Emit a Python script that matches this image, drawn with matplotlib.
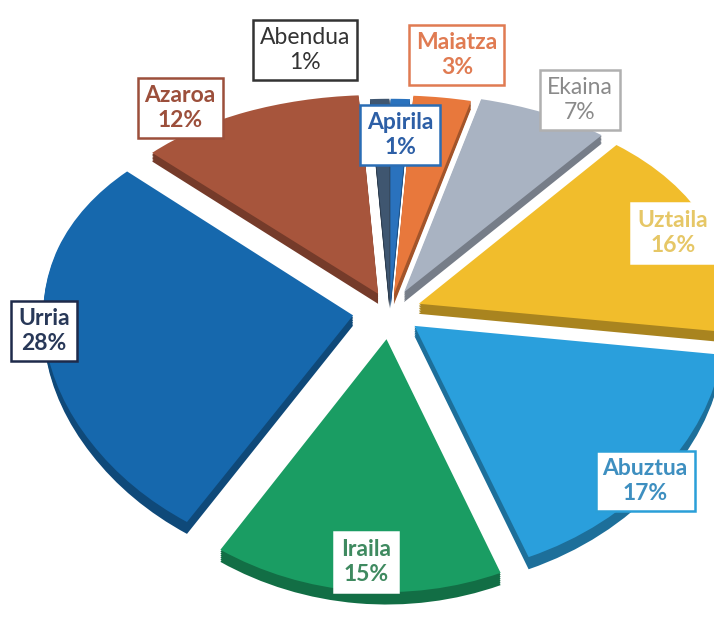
import matplotlib
matplotlib.use("Agg")
import matplotlib.pyplot as plt
import numpy as np
from matplotlib.colors import to_rgb

# ---- data ----
months = ["Apirila", "Maiatza", "Ekaina", "Uztaila", "Abuztua",
          "Iraila", "Urria", "Azaroa", "Abendua"]
shares = [1, 3, 7, 16, 17, 15, 28, 12, 1]

# ---- style ----
colors = ["#2a72bd", "#e8783c", "#a9b3c2", "#f1bd2c", "#2a9fdc",
          "#1a9d63", "#1668ad", "#a7553c", "#3f5670"]
explode = [0.06, 0.08, 0.1, 0.1, 0.1, 0.12, 0.12, 0.09, 0.06]
text_colors = ["#2d5fa6", "#e07b52", "#8a8a8a", "#e6c766", "#3e8fc0",
               "#3f8a60", "#283858", "#9c4f3b", "#333333"]
edge_colors = ["#2a6db5", "#e07b52", "#b0b0b0", "#ffffff", "#2a9fd8",
               "#ffffff", "#1e2a4a", "#9c4f3b", "#333333"]
weights = ["bold", "bold", "normal", "bold", "bold", "bold", "bold", "bold", "normal"]
# label box centres in pixels (x from left, y from top)
label_px = [(400, 135), (457, 55), (580, 100), (673, 233), (645, 481),
            (366, 562), (44, 331), (180, 108), (305, 50)]

W, H = 714, 626
fig = plt.figure(figsize=(W / 100, H / 100), dpi=100)
ax = fig.add_axes([0, 0, 1, 1])

rx, ry = 310.0, 225.0      # pixel radius of the tilted pie
cx, cy = 390.0, 312.0      # pixel centre (from top)
thick = 0.045              # side thickness in data units (y)
c = 0.10                   # perspective: front larger than back


def fwd(y):
    y = np.asarray(y, dtype=float)
    return y - c * y * y


def inv(z):
    z = np.asarray(z, dtype=float)
    d = np.clip(1 - 4 * c * z, 0, None)
    return (1 - np.sqrt(d)) / (2 * c)


side_cols = [tuple(v * 0.7 for v in to_rgb(col)) for col in colors]
steps = 6
for k in range(steps, 0, -1):
    off = -thick * k / steps
    ax.pie(shares, explode=explode, colors=side_cols, startangle=90,
           counterclock=False, center=(0, off), radius=1.0,
           wedgeprops=dict(linewidth=0), frame=True)
ax.pie(shares, explode=explode, colors=colors, startangle=90,
       counterclock=False, center=(0, 0), radius=1.0,
       wedgeprops=dict(linewidth=0), frame=True)

ax.set_aspect("auto")
ax.set_yscale("function", functions=(fwd, inv))
ax.set_xlim(-cx / rx, (W - cx) / rx)
ax.set_ylim(float(inv(-(H - cy) / ry)), float(inv(cy / ry)))
ax.axis("off")

for name, pct, (px, py), tc, ec, wt in zip(months, shares, label_px,
                                            text_colors, edge_colors, weights):
    fig.text(px / W, 1 - py / H, f"{name}\n{pct}%", ha="center", va="center",
             multialignment="center", fontsize=16.5, color=tc, fontweight=wt,
             family=["Lato", "DejaVu Sans"], linespacing=1.2,
             bbox=dict(boxstyle="square,pad=0.3", facecolor="white",
                       edgecolor=ec, linewidth=1.8))

fig.savefig("out.png", dpi=100, facecolor="white")
